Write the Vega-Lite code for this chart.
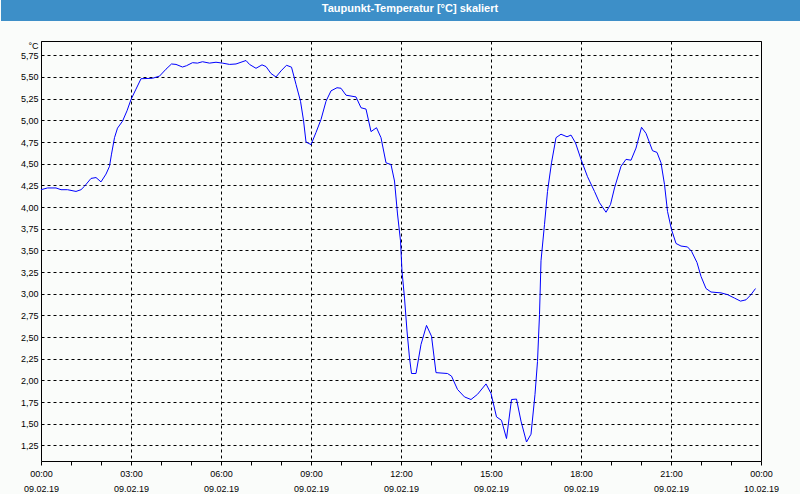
{
  "$schema": "https://vega.github.io/schema/vega-lite/v6.json",
  "padding": 0,
  "background": "#fafcfa",
  "spacing": 19,
  "vconcat": [
    {
      "width": 760,
      "height": 21,
      "view": {"fill": "#3d8fc8", "stroke": null},
      "data": {"values": [{"title": "Taupunkt-Temperatur [°C] skaliert"}]},
      "mark": {"type": "text", "color": "#ffffff", "font": "Liberation Sans", "fontSize": 11, "fontWeight": "bold", "baseline": "alphabetic", "dx": -11, "dy": 1.5},
      "encoding": {
        "text": {"field": "title"},
        "y": {
          "field": "title",
          "type": "nominal",
          "axis": {"labels": false, "ticks": false, "title": null, "grid": false, "domain": true, "domainColor": "#3d8fc8", "domainWidth": 80, "translate": 0}
        }
      }
    },
    {
      "width": 720,
      "height": 420,
      "view": {"stroke": "#000000", "strokeWidth": 1, "fill": null},
      "data": {"values": [
        {"m": 0, "v": 4.20}, {"m": 13, "v": 4.22}, {"m": 30, "v": 4.22}, {"m": 40, "v": 4.20},
        {"m": 53, "v": 4.20}, {"m": 70, "v": 4.18}, {"m": 80, "v": 4.20}, {"m": 87, "v": 4.24},
        {"m": 100, "v": 4.33}, {"m": 110, "v": 4.34}, {"m": 120, "v": 4.29}, {"m": 130, "v": 4.38},
        {"m": 137, "v": 4.47}, {"m": 141, "v": 4.61}, {"m": 147, "v": 4.80}, {"m": 153, "v": 4.91},
        {"m": 163, "v": 4.99}, {"m": 172, "v": 5.11}, {"m": 180, "v": 5.24}, {"m": 190, "v": 5.36},
        {"m": 200, "v": 5.48}, {"m": 223, "v": 5.485}, {"m": 237, "v": 5.51}, {"m": 250, "v": 5.59},
        {"m": 261, "v": 5.65}, {"m": 270, "v": 5.645}, {"m": 283, "v": 5.615}, {"m": 291, "v": 5.63},
        {"m": 303, "v": 5.665}, {"m": 313, "v": 5.66}, {"m": 323, "v": 5.676}, {"m": 337, "v": 5.66},
        {"m": 350, "v": 5.67}, {"m": 363, "v": 5.66}, {"m": 377, "v": 5.645}, {"m": 390, "v": 5.65},
        {"m": 400, "v": 5.67}, {"m": 410, "v": 5.69}, {"m": 417, "v": 5.645}, {"m": 430, "v": 5.60},
        {"m": 442, "v": 5.64}, {"m": 450, "v": 5.62}, {"m": 460, "v": 5.54}, {"m": 470, "v": 5.50},
        {"m": 480, "v": 5.57}, {"m": 491, "v": 5.635}, {"m": 501, "v": 5.613}, {"m": 510, "v": 5.415},
        {"m": 519, "v": 5.22}, {"m": 525, "v": 5.00}, {"m": 530, "v": 4.75}, {"m": 540, "v": 4.72},
        {"m": 550, "v": 4.86}, {"m": 560, "v": 5.01}, {"m": 570, "v": 5.22}, {"m": 580, "v": 5.34},
        {"m": 592, "v": 5.376}, {"m": 600, "v": 5.37}, {"m": 610, "v": 5.29}, {"m": 620, "v": 5.28},
        {"m": 630, "v": 5.27}, {"m": 640, "v": 5.145}, {"m": 650, "v": 5.13}, {"m": 660, "v": 4.87},
        {"m": 671, "v": 4.915}, {"m": 680, "v": 4.80}, {"m": 690, "v": 4.51}, {"m": 700, "v": 4.49},
        {"m": 707, "v": 4.30}, {"m": 713, "v": 3.92}, {"m": 719, "v": 3.61}, {"m": 722, "v": 3.26},
        {"m": 727, "v": 2.95}, {"m": 732, "v": 2.57}, {"m": 737, "v": 2.26}, {"m": 741, "v": 2.08},
        {"m": 750, "v": 2.08}, {"m": 760, "v": 2.415}, {"m": 771, "v": 2.635}, {"m": 781, "v": 2.51},
        {"m": 790, "v": 2.09}, {"m": 813, "v": 2.08}, {"m": 821, "v": 2.05}, {"m": 833, "v": 1.896},
        {"m": 847, "v": 1.81}, {"m": 860, "v": 1.78}, {"m": 873, "v": 1.84}, {"m": 890, "v": 1.96},
        {"m": 900, "v": 1.85}, {"m": 911, "v": 1.58}, {"m": 921, "v": 1.54}, {"m": 931, "v": 1.33},
        {"m": 941, "v": 1.78}, {"m": 951, "v": 1.785}, {"m": 960, "v": 1.53}, {"m": 971, "v": 1.29},
        {"m": 980, "v": 1.38}, {"m": 988, "v": 1.84}, {"m": 993, "v": 2.22}, {"m": 997, "v": 2.76},
        {"m": 1000, "v": 3.38}, {"m": 1007, "v": 3.80}, {"m": 1013, "v": 4.18}, {"m": 1021, "v": 4.51},
        {"m": 1030, "v": 4.80}, {"m": 1040, "v": 4.84}, {"m": 1052, "v": 4.81}, {"m": 1060, "v": 4.83},
        {"m": 1069, "v": 4.74}, {"m": 1080, "v": 4.55}, {"m": 1093, "v": 4.35}, {"m": 1107, "v": 4.18},
        {"m": 1117, "v": 4.05}, {"m": 1130, "v": 3.94}, {"m": 1139, "v": 4.03}, {"m": 1147, "v": 4.22},
        {"m": 1160, "v": 4.47}, {"m": 1170, "v": 4.55}, {"m": 1180, "v": 4.54}, {"m": 1190, "v": 4.68},
        {"m": 1201, "v": 4.92}, {"m": 1210, "v": 4.85}, {"m": 1223, "v": 4.65}, {"m": 1232, "v": 4.63},
        {"m": 1240, "v": 4.51}, {"m": 1247, "v": 4.26}, {"m": 1253, "v": 3.95}, {"m": 1261, "v": 3.74},
        {"m": 1270, "v": 3.58}, {"m": 1280, "v": 3.55}, {"m": 1293, "v": 3.54}, {"m": 1301, "v": 3.49},
        {"m": 1312, "v": 3.36}, {"m": 1320, "v": 3.20}, {"m": 1330, "v": 3.06}, {"m": 1340, "v": 3.02},
        {"m": 1360, "v": 3.01}, {"m": 1373, "v": 2.99}, {"m": 1387, "v": 2.95}, {"m": 1399, "v": 2.915},
        {"m": 1410, "v": 2.93}, {"m": 1420, "v": 2.99}, {"m": 1429, "v": 3.06}
      ]},
      "mark": {"type": "line", "color": "#0000ff", "strokeWidth": 1, "interpolate": "linear"},
      "encoding": {
        "x": {
          "field": "m",
          "type": "quantitative",
          "title": null,
          "scale": {"domain": [0, 1440], "nice": false, "zero": false},
          "axis": {
            "values": [0, 60, 120, 180, 240, 300, 360, 420, 480, 540, 600, 660, 720, 780, 840, 900, 960, 1020, 1080, 1140, 1200, 1260, 1320, 1380, 1440],
            "labelExpr": "datum.value % 180 == 0 ? [(datum.value < 600 || datum.value == 1440 ? '0' : '') + (floor(datum.value / 60) % 24) + ':00', datum.value == 1440 ? '10.02.19' : '09.02.19'] : ''",
            "grid": true,
            "gridColor": "#000000",
            "gridDash": [3, 3],
            "gridWidth": 1,
            "gridOpacity": {"condition": {"test": "datum.value % 180 == 0", "value": 1}, "value": 0},
            "domain": false,
            "tickSize": 4,
            "tickColor": "#000000",
            "labelFont": "Liberation Sans",
            "labelFontSize": 9,
            "labelColor": "#000000",
            "labelPadding": 4,
            "labelLineHeight": 15.5,
            "labelBaseline": "top",
            "labelOverlap": false,
            "labelFlush": false,
            "labelBound": false
          }
        },
        "y": {
          "field": "v",
          "type": "quantitative",
          "title": "°C",
          "scale": {"domain": [1.071, 5.915], "nice": false, "zero": false},
          "axis": {
            "values": [1.25, 1.5, 1.75, 2, 2.25, 2.5, 2.75, 3, 3.25, 3.5, 3.75, 4, 4.25, 4.5, 4.75, 5, 5.25, 5.5, 5.75],
            "labelExpr": "replace(format(datum.value, '.2f'), '.', ',')",
            "ticks": false,
            "domain": false,
            "grid": true,
            "gridColor": "#000000",
            "gridDash": [3, 3],
            "labelFont": "Liberation Sans",
            "labelFontSize": 9,
            "labelColor": "#000000",
            "labelPadding": 3,
            "minExtent": 40,
            "maxExtent": 40,
            "titleAngle": 0,
            "titleAlign": "right",
            "titleBaseline": "top",
            "titleX": -3,
            "titleY": 0,
            "titleFont": "Liberation Sans",
            "titleFontSize": 9,
            "titleFontWeight": "normal",
            "titleColor": "#000000"
          }
        }
      }
    }
  ]
}
